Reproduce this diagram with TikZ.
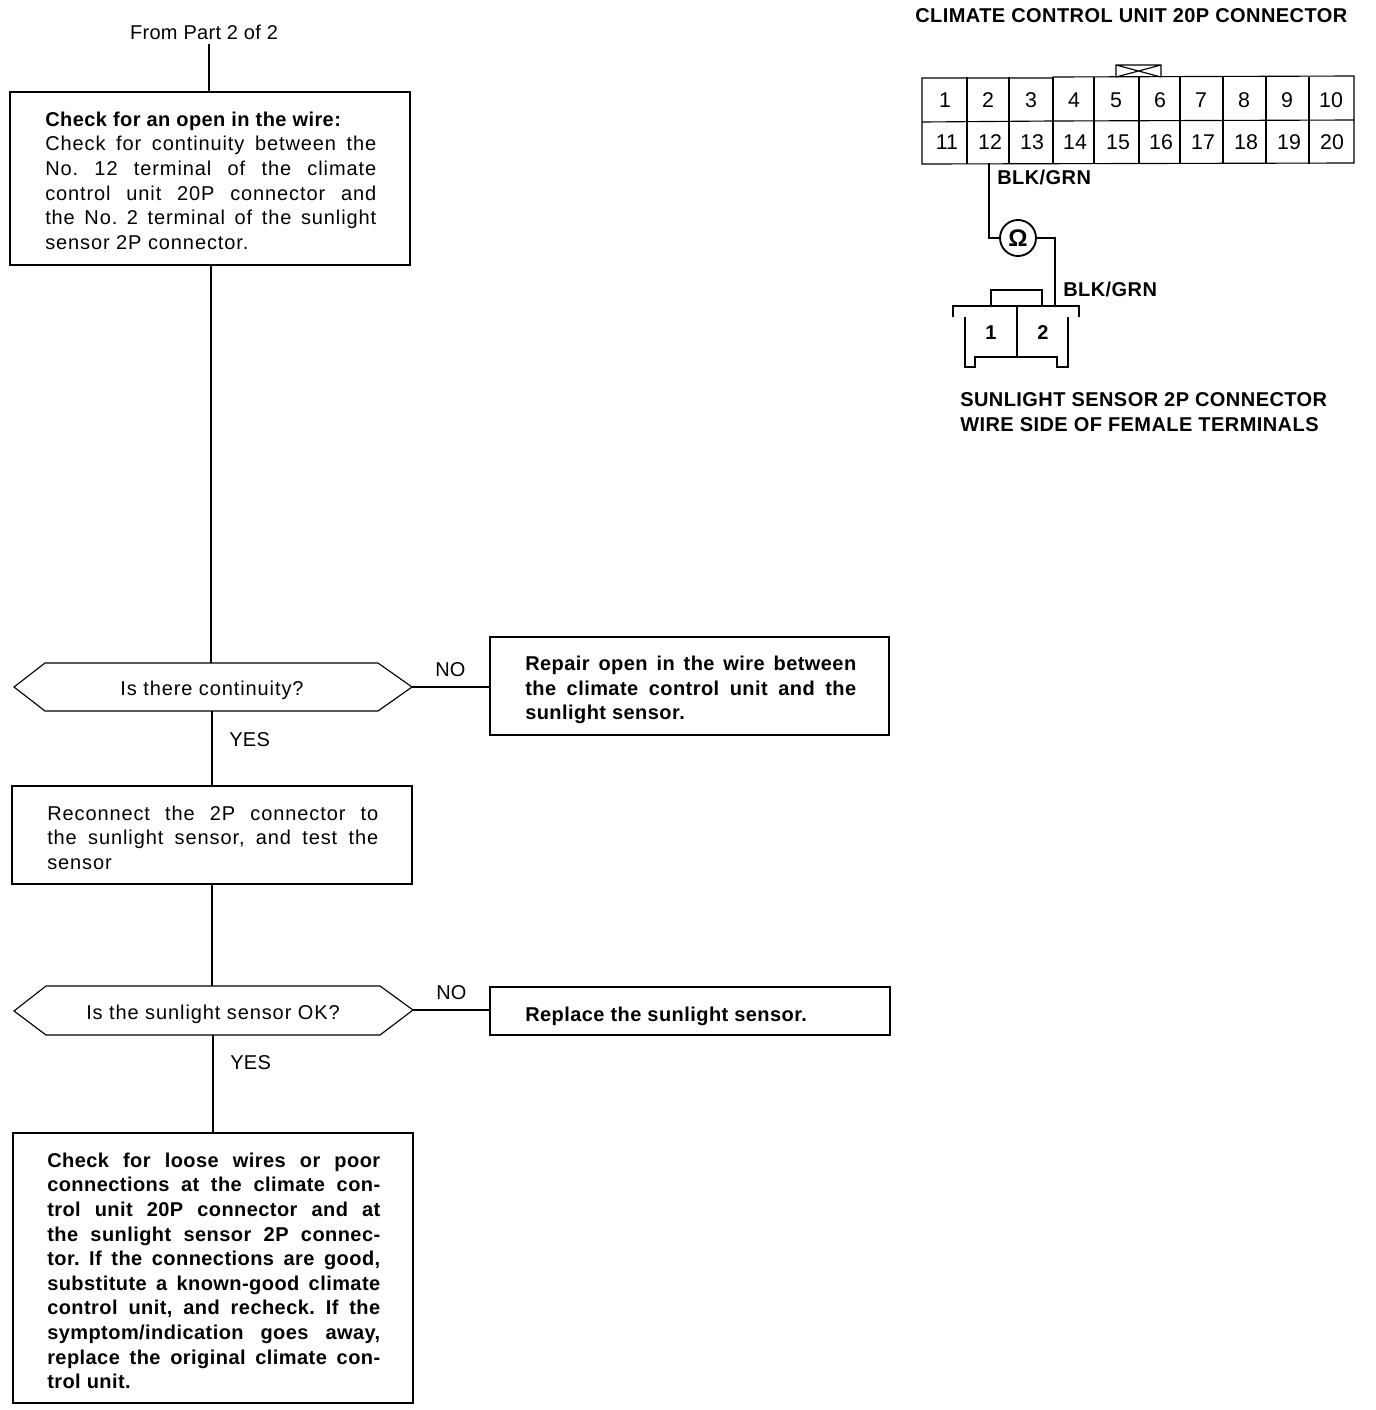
\documentclass[tikz,border=0pt]{standalone}
\usepackage{fontspec}
\setmainfont{Liberation Sans}
\newfontfamily\widesp[LetterSpace=4.5]{Liberation Sans}
\newfontfamily\midsp[LetterSpace=2.2]{Liberation Sans}
\newfontfamily\lowsp[LetterSpace=1.5]{Liberation Sans}
\usetikzlibrary{calc}
\tikzset{
  x=0.75pt,y=-0.75pt,
  ln/.style={line width=1.4pt},
  thinln/.style={line width=0.85pt},
  bodytxt/.style={anchor=north west,inner sep=0pt,align=justify,text width=250pt,font=\fontsize{15}{18.45}\selectfont\widesp\frenchspacing},
  boldtxt/.style={bodytxt,font=\fontsize{15}{18.45}\selectfont\midsp\bfseries\frenchspacing},
  labtxt/.style={inner sep=0pt,font=\fontsize{15}{18}\selectfont\lowsp},
  asktxt/.style={inner sep=0pt,font=\fontsize{15}{18}\selectfont\widesp},
  captxt/.style={inner sep=0pt,anchor=west,font=\fontsize{15}{18}\selectfont\midsp\bfseries},
  pintxt/.style={inner sep=0pt,font=\fontsize{16}{18}\selectfont},
}
\begin{document}
\begin{tikzpicture}
\useasboundingbox (0,0) rectangle (1376,1410);
% flowchart boxes
\draw[thinln] (10,92) rectangle (410,265);
\coordinate (b1t) at (209,92); \coordinate (b1b) at (211,265);
\draw[thinln] (490,637) rectangle (889,735);
\coordinate (b2l) at (490,687);
\draw[thinln] (12,786) rectangle (412,884);
\coordinate (b3t) at (212,786); \coordinate (b3b) at (212,884);
\draw[thinln] (490,987) rectangle (890,1035);
\coordinate (b4l) at (490,1010);
\draw[ln] (13,1133) rectangle (413,1403);
\coordinate (b5t) at (213,1133);
% decisions
\draw[thinln] (14,687) -- (45,663) -- (378,663) -- (412,687) -- (378,711) -- (45,711) -- cycle;
\coordinate (d1t) at (211,663); \coordinate (d1b) at (212,711); \coordinate (d1r) at (412,687);
\draw[thinln] (14,1011) -- (46,986) -- (380,986) -- (413,1010) -- (380,1035) -- (46,1035) -- cycle;
\coordinate (d2t) at (212,986); \coordinate (d2b) at (213,1035); \coordinate (d2r) at (413,1010);
% texts
\node[labtxt] (from) at (204,32) {From Part 2 of 2};
\coordinate (fromb) at (209,44);
\node[bodytxt,text width=248.25pt] (t1) at (45,111.5) {{\midsp\bfseries Check for an open in the wire:}\\Check for continuity between the\linebreak No. 12 terminal of the climate\linebreak control unit 20P connector and\linebreak the No. 2 terminal of the sunlight\linebreak sensor 2P connector.};
\node[asktxt] (q1) at (212,690) {Is there continuity?};
\node[boldtxt,text width=248.25pt] (t2) at (525,656) {Repair open in the wire between\linebreak the climate control unit and the\linebreak sunlight sensor.};
\node[labtxt,anchor=west] (y1) at (229,740) {YES};
\node[labtxt,anchor=west] (n1) at (435,670) {NO};
\node[bodytxt,text width=248.25pt] (t3) at (47,805.5) {Reconnect the 2P connector to\linebreak the sunlight sensor, and test the\linebreak sensor};
\node[asktxt] (q2) at (213,1014) {Is the sunlight sensor OK?};
\node[labtxt,anchor=west] (n2) at (436,993) {NO};
\node[labtxt,anchor=west] (y2) at (230,1063) {YES};
\node[captxt] (t4) at (525,1016) {Replace the sunlight sensor.};
\node[boldtxt,text width=249.75pt] (t5) at (47,1152.5) {Check for loose wires or poor\linebreak connections at the climate con-\linebreak trol unit 20P connector and at\linebreak the sunlight sensor 2P connec-\linebreak tor. If the connections are good,\linebreak substitute a known-good climate\linebreak control unit, and recheck. If the\linebreak symptom/indication goes away,\linebreak replace the original climate con-\linebreak trol unit.};
% connectors
\draw[ln] (fromb) -- (b1t);
\draw[thinln] (b1b) -- (d1t);
\draw[ln] (d1b) -- (b3t);
\draw[thinln] (b3b) -- (d2t);
\draw[thinln] (d2b) -- (b5t);
\draw[thinln] (d1r) -- (b2l);
\draw[thinln] (d2r) -- (b4l);
% 20P connector
\node[captxt] (c1) at (915,16) {CLIMATE CONTROL UNIT 20P CONNECTOR};
\draw[thinln] (922,78) -- (1053,78) -- (1053,77) -- (1354,76) -- (1354,163) -- (922,164) -- cycle;
\draw[thinln] (922,122) -- (1053,121) -- (1354,120);
\foreach \cx in {967,1009,1094,1139,1180,1223,1266,1309} \draw[thinln] (\cx,77) -- (\cx,164);
\draw[ln] (1053,77) -- (1053,164);
\draw[thinln] (1116,77) -- (1116,65) -- (1161,65) -- (1161,77) (1116,65) -- (1161,77) (1116,77) -- (1161,65);
\foreach \n/\px in {1/945,2/988,3/1031,4/1074,5/1116,6/1160,7/1201,8/1244,9/1287,10/1331}
  \node[pintxt] (p\n) at (\px,100) {\n};
\foreach \n/\px in {11/947,12/990,13/1032,14/1075,15/1118,16/1161,17/1203,18/1246,19/1289,20/1332}
  \node[pintxt] (p\n) at (\px,142) {\n};
\coordinate (w12) at (989,163);
\node[draw,circle,line width=1.4pt,minimum size=27pt,inner sep=0pt,font=\fontsize{18}{18}\selectfont\bfseries] (ohm) at (1018,238) {Ω};
\coordinate (s2t) at (1055,306);
\draw[ln] (w12) |- (ohm.west);
\draw[ln] (ohm.east) -| (s2t);
\node[captxt] (w1) at (997,177.5) {BLK/GRN};
\node[captxt] (w2) at (1063,289.5) {BLK/GRN};
% sensor connector
\draw[thinln] (953,317) -- (953,306) -- (1079,306) -- (1079,317);
\draw[thinln] (965,317) -- (965,367) -- (975,367) -- (975,357) -- (1057,357) -- (1057,367) -- (1068,367) -- (1068,317);
\draw[thinln] (1017,306) -- (1017,357);
\draw[thinln] (991,306) -- (991,290) -- (1042,290) -- (1042,306);
\node[pintxt,font=\fontsize{15}{18}\selectfont\bfseries] (s1) at (991,333) {1};
\node[pintxt,font=\fontsize{15}{18}\selectfont\bfseries] (s2) at (1043,333) {2};
\node[captxt] (c2) at (960,400) {SUNLIGHT SENSOR 2P CONNECTOR};
\node[captxt] (c3) at (960,425) {WIRE SIDE OF FEMALE TERMINALS};
\end{tikzpicture}
\end{document}
